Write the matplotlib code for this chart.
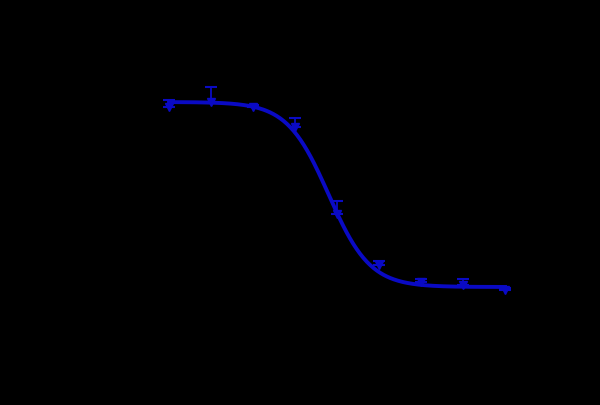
import matplotlib
matplotlib.use('Agg')
import matplotlib.pyplot as plt
import numpy as np

# dose-response data (log10 concentration, mean signal, upper SD)
log_conc = [-3, -2, -1, 0, 1, 2, 3, 4, 5]
signal = [2.32, 2.37, 2.32, 2.12, 1.25, 0.74, 0.57, 0.54, 0.49]
err_up = [0.07, 0.15, 0.02, 0.09, 0.13, 0.04, 0.03, 0.06, 0.02]

# 4PL fit parameters
top = 2.37
bottom = 0.52
log_ic50 = 0.8
hill = 0.88

conc = 10.0 ** np.array(log_conc)
xfit = np.logspace(log_conc[0], log_conc[-1], 300)
yfit = bottom + (top - bottom) / (1 + 10 ** ((np.log10(xfit) - log_ic50) * hill))

blue = '#0a0ac4'

fig = plt.figure(figsize=(6, 4.06), dpi=100, facecolor='black')
ax = fig.add_axes([127/600, 66/406, 420/600, 280/406], facecolor='black')

ax.plot(xfit, yfit, color=blue, linewidth=2.8)
ax.errorbar(conc, signal, yerr=[np.zeros(len(err_up)), err_up], fmt='v',
            color=blue, markersize=6, elinewidth=1.3, capsize=4, capthick=1.5)

ax.set_xscale('log')
ax.set_xlim(10.0 ** -4, 10.0 ** 6)
ax.set_ylim(0, 2.8)

# axes and text are black, as in the reference
for s in ['top', 'right']:
    ax.spines[s].set_color('none')
for s in ['bottom', 'left']:
    ax.spines[s].set_color('black')
ax.tick_params(colors='black')
ax.set_xlabel('Concentration (ng/mL)', color='black')
ax.set_ylabel('OD 450 nm', color='black')

fig.savefig('out.png', dpi=100, facecolor='black')
